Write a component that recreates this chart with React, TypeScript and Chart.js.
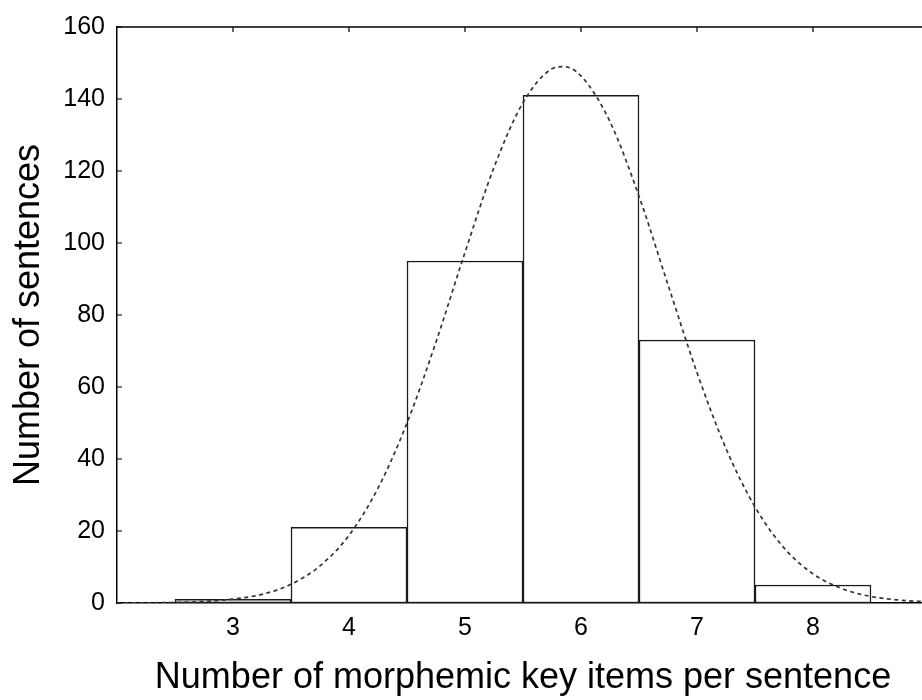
import React, { useEffect, useRef } from "react";
import { Chart, registerables } from "chart.js";

Chart.register(...registerables);

const categories = [3, 4, 5, 6, 7, 8];
const counts = [1, 21, 95, 141, 73, 5];
const curveX = [2, 2.25, 2.5, 2.75, 3, 3.25, 3.5, 3.75, 4, 4.25, 4.5, 4.75, 5, 5.25, 5.5, 5.75, 5.85, 6, 6.25, 6.5, 6.75, 7, 7.25, 7.5, 7.75, 8, 8.25, 8.5, 8.75, 9];
const curveY = [0.02, 0.05, 0.16, 0.42, 1.1, 2.4, 5.2, 10.3, 18.8, 31.9, 50, 72.5, 97.4, 121, 139, 148.4, 149, 146.4, 133.7, 113, 88.4, 64, 42.9, 26.7, 15.3, 8.1, 4.0, 1.8, 0.8, 0.3];
const yTickValues = [0, 20, 40, 60, 80, 100, 120, 140, 160];
const xTitle = "Number of morphemic key items per sentence";
const yTitle = "Number of sentences";

const FONT = "'Liberation Sans', Arial, sans-serif";

const framePlugin = {
  id: "frame",
  afterDraw(chart: any) {
    const { ctx, chartArea, scales } = chart;
    const { left, right, top } = chartArea;
    ctx.save();
    ctx.strokeStyle = "#000";
    ctx.lineWidth = 1.5;
    ctx.beginPath();
    ctx.moveTo(left, top);
    ctx.lineTo(right, top);
    ctx.stroke();
    ctx.lineWidth = 1.2;
    ctx.beginPath();
    for (const v of yTickValues) {
      const y = scales.y.getPixelForValue(v);
      ctx.moveTo(left, y);
      ctx.lineTo(left + 5, y);
    }
    for (const v of categories) {
      const x = scales.x.getPixelForValue(v);
      ctx.moveTo(x, top);
      ctx.lineTo(x, top + 5);
    }
    ctx.stroke();
    ctx.restore();
  },
};

export default function App() {
  const ref = useRef<HTMLCanvasElement>(null);
  useEffect(() => {
    if (!ref.current) return;
    const chart = new Chart(ref.current, {
      type: "bar",
      data: {
        datasets: [
          {
            type: "line",
            data: curveX.map((x, i) => ({ x, y: curveY[i] })),
            borderColor: "#333333",
            borderWidth: 1.7,
            borderDash: [4, 3.5],
            pointRadius: 0,
            fill: false,
            cubicInterpolationMode: "monotone",
            order: 0,
          } as any,
          {
            type: "bar",
            data: categories.map((x, i) => ({ x, y: counts[i] })),
            backgroundColor: "#ffffff",
            borderColor: "#1a1a1a",
            borderWidth: 1.5,
            borderSkipped: false,
            barPercentage: 1,
            categoryPercentage: 1,
            order: 1,
          } as any,
        ],
      },
      options: {
        animation: false,
        responsive: false,
        maintainAspectRatio: false,
        layout: { padding: { top: 27, right: 31, left: 0, bottom: 0 } },
        plugins: { legend: { display: false }, tooltip: { enabled: false } },
        scales: {
          x: {
            type: "linear",
            min: 2,
            max: 9,
            offset: false,
            afterBuildTicks: (axis: any) => {
              axis.ticks = categories.map((v) => ({ value: v }));
            },
            afterFit: (axis: any) => {
              axis.height = 97;
            },
            grid: { display: false, drawTicks: false },
            border: { display: true, color: "#000", width: 1.5 },
            ticks: {
              color: "#000",
              font: { family: FONT, size: 25 },
              padding: 10,
              maxRotation: 0,
              callback: (v: any) => String(v),
            },
            title: {
              display: true,
              text: xTitle,
              color: "#000",
              font: { family: FONT, size: 36 },
              padding: { top: 0, bottom: 0 },
            },
          },
          y: {
            type: "linear",
            min: 0,
            max: 160,
            afterBuildTicks: (axis: any) => {
              axis.ticks = yTickValues.map((v) => ({ value: v }));
            },
            afterFit: (axis: any) => {
              axis.width = 117;
            },
            grid: { display: false, drawTicks: false },
            border: { display: true, color: "#000", width: 1.5 },
            ticks: {
              color: "#000",
              font: { family: FONT, size: 25 },
              padding: 12,
            },
            title: {
              display: true,
              text: yTitle,
              color: "#000",
              font: { family: FONT, size: 36 },
              padding: { top: 7, bottom: 0 },
            },
          },
        },
      },
      plugins: [framePlugin],
    });
    return () => chart.destroy();
  }, []);
  return (
    <div style={{ position: "fixed", left: 0, top: 0, width: 922, height: 700, overflow: "hidden", background: "#fff" }}>
      <canvas ref={ref} width={960} height={700} style={{ display: "block", width: 960, height: 700 }} />
    </div>
  );
}
